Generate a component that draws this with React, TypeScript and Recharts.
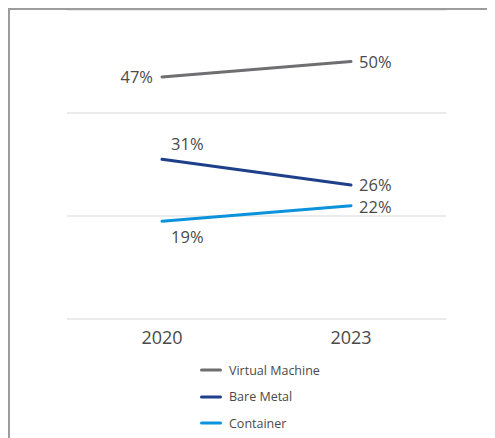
import { CartesianGrid, Legend, Line, LineChart, XAxis, YAxis } from "recharts";

const years = ["2020", "2023"];
const virtualMachine = [47, 50];
const bareMetal = [31, 26];
const container = [19, 22];
const gridTicks = [0, 20, 40];

const data = years.map((year, i) => ({
  year,
  vm: virtualMachine[i],
  bm: bareMetal[i],
  ct: container[i],
}));

const FONT = "'Open Sans', sans-serif";
const TEXT = "#4a4a4a";

// where each point's label sits: first point, last point
const series = [
  { key: "vm", name: "Virtual Machine", color: "#6f6f72", sides: ["left", "right"] },
  { key: "bm", name: "Bare Metal", color: "#1e3f8a", sides: ["above", "rightUp"] },
  { key: "ct", name: "Container", color: "#0a92dc", sides: ["below", "rightDown"] },
];

function makeLabel(sides: string[]) {
  return (props: any) => {
    const { x, y, value, index } = props;
    const side = sides[index];
    let tx = x;
    let ty = y;
    let anchor: "start" | "end" = "start";
    if (side === "left") {
      tx = x - 9;
      anchor = "end";
    } else if (side === "right") {
      tx = x + 8;
    } else if (side === "rightUp") {
      tx = x + 8;
      ty = y - 1;
    } else if (side === "rightDown") {
      tx = x + 8;
      ty = y + 1;
    } else if (side === "above") {
      tx = x + 9;
      ty = y - 16;
    } else {
      tx = x + 9;
      ty = y + 15;
    }
    return (
      <text
        key={`l-${index}`}
        x={tx}
        y={ty}
        textAnchor={anchor}
        dominantBaseline="central"
        fontFamily={FONT}
        fontSize={16.5}
        fill={TEXT}
      >
        {value}%
      </text>
    );
  };
}

function LegendBox() {
  return (
    <div
      style={{
        height: 78,
        paddingLeft: 190,
        fontFamily: FONT,
        fontSize: 12.5,
        color: TEXT,
        transform: "translateY(-2px)",
      }}
    >
      {series.map((s) => (
        <div key={s.key} style={{ height: 26.5, display: "flex", alignItems: "center" }}>
          <svg width={22} height={6} style={{ marginRight: 7 }}>
            <line x1={1.5} y1={3} x2={20.5} y2={3} stroke={s.color} strokeWidth={3} strokeLinecap="round" />
          </svg>
          <span>{s.name}</span>
        </div>
      ))}
    </div>
  );
}

export default function App() {
  return (
    <div
      style={{
        width: 487,
        height: 430,
        borderTop: "2px solid #9c9c9c",
        borderLeft: "2px solid #9c9c9c",
        boxSizing: "border-box",
        background: "#fff",
      }}
    >
      <LineChart width={485} height={428} data={data} margin={{ top: 0, right: 49, bottom: 1, left: 57 }}>
        <CartesianGrid vertical={false} stroke="#e4e4e4" strokeWidth={1.5} />
        <YAxis hide domain={[0, 60]} ticks={gridTicks} />
        <XAxis
          dataKey="year"
          height={40}
          axisLine={false}
          tickLine={false}
          padding={{ left: 95, right: 95 }}
          tick={{ fontFamily: FONT, fontSize: 18, fill: TEXT }}
          tickMargin={6}
        />
        <Legend
          verticalAlign="bottom"
          content={() => <LegendBox />}
          wrapperStyle={{ left: 0, width: 485 }}
        />
        {series.map((s) => (
          <Line
            key={s.key}
            dataKey={s.key}
            name={s.name}
            stroke={s.color}
            strokeWidth={3}
            dot={false}
            activeDot={false}
            strokeLinecap="round"
            isAnimationActive={false}
            label={makeLabel(s.sides)}
          />
        ))}
      </LineChart>
    </div>
  );
}
